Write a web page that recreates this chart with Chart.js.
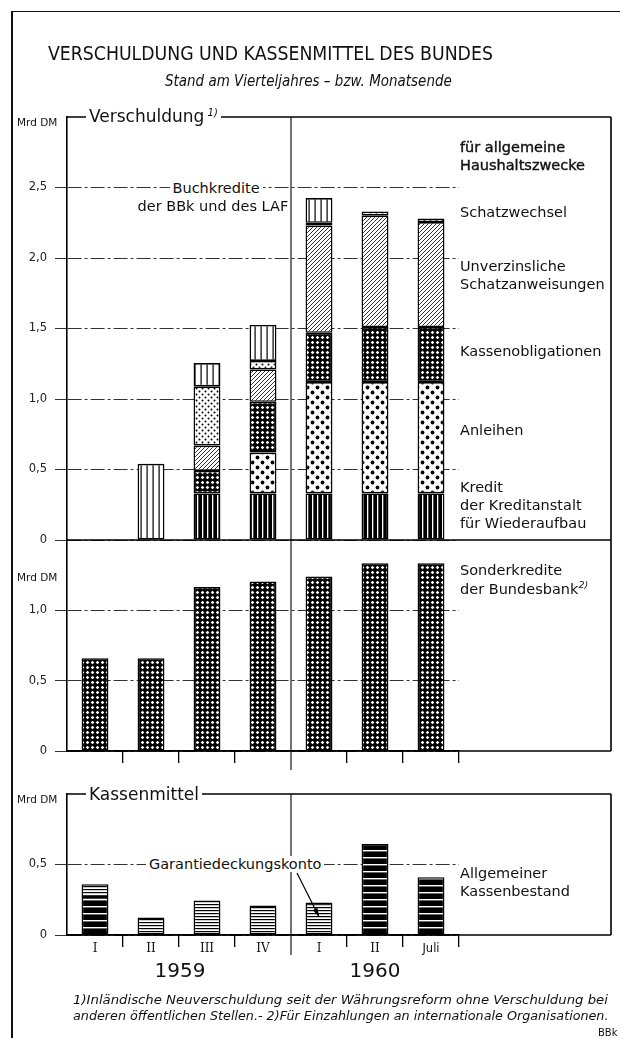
<!DOCTYPE html>
<html>
<head>
<meta charset="utf-8">
<script src="https://cdn.jsdelivr.net/npm/chart.js@4.4.1/dist/chart.umd.min.js"></script>
<style>
  body { margin: 0; background: #fff; }
  #page { position: relative; width: 620px; height: 1038px; overflow: hidden; background: #fff;
          font-family: 'DejaVu Sans', sans-serif; color: #111; }
  canvas { position: absolute; left: 0; top: 0; }
  .t { position: absolute; white-space: nowrap; line-height: 1.15; z-index: 5; }
  .bg { background: #fff; padding: 0 3px; }
  #outer { position: absolute; left: 11px; top: 11px; width: 640px; height: 1100px;
           border-left: 2px solid #111; border-top: 1.5px solid #111; }
</style>
</head>
<body>
<div id="page">
  <div id="outer"></div>
  <canvas id="debt" width="620" height="1038"></canvas>
  <canvas id="special" width="620" height="1038"></canvas>
  <canvas id="cash" width="620" height="1038"></canvas>
</div>
<script>
// categories (quarter / month ends)
const periods = ['I', 'II', 'III', 'IV', 'I', 'II', 'Juli'];
const years = ['1959', '1960'];

// Verschuldung, Mrd DM (stacked bottom -> top)
const kfwKredit      = [null, null, 0.33, 0.33, 0.33, 0.33, 0.33];
const anleihen       = [null, null, null, 0.29, 0.79, 0.79, 0.79];
const kassenoblig    = [null, null, 0.16, 0.36, 0.35, 0.39, 0.39];
const unverzSchatz   = [null, null, 0.18, 0.23, 0.76, 0.79, 0.745];
const schatzwechsel  = [null, null, 0.42, 0.06, 0.02, 0.03, 0.025];
const buchkredite    = [null, 0.54, 0.165, 0.255, 0.175, null, null];

// Sonderkredite der Bundesbank
const sonderkredite  = [0.66, 0.66, 1.165, 1.205, 1.24, 1.335, 1.335];

// Kassenmittel
const allgKasse      = [0.27, null, null, null, null, 0.645, 0.41];
const garantieKonto  = [0.09, 0.125, 0.245, 0.21, 0.23, null, null];

Chart.defaults.font.family = "'DejaVu Sans', sans-serif";
Chart.defaults.color = '#111';

const RIGHT = 611;

// hatch patterns like the printed chart
function pat(w, h, draw) {
  const c = document.createElement('canvas');
  c.width = w; c.height = h;
  const g = c.getContext('2d');
  draw(g, w, h);
  return g.createPattern(c, 'repeat');
}
const P = {
  kfw: pat(5, 5, (g) => { g.fillStyle = '#000'; g.fillRect(0, 0, 5, 5); g.fillStyle = '#fff'; g.fillRect(2, 0, 1.3, 5); }),
  buch: pat(6, 6, (g) => { g.fillStyle = '#fff'; g.fillRect(0, 0, 6, 6); g.fillStyle = '#000'; g.fillRect(2.5, 0, 1.2, 6); }),
  dotsBig: pat(10, 10, (g) => {
    g.fillStyle = '#fff'; g.fillRect(0, 0, 10, 10); g.fillStyle = '#000';
    [[2.5, 2.5], [7.5, 7.5]].forEach(([x, y]) => { g.beginPath(); g.arc(x, y, 1.9, 0, Math.PI * 2); g.fill(); });
  }),
  dotsSmall: pat(6, 6, (g) => {
    g.fillStyle = '#fff'; g.fillRect(0, 0, 6, 6); g.fillStyle = '#000';
    [[1.5, 1.5], [4.5, 4.5]].forEach(([x, y]) => { g.beginPath(); g.arc(x, y, 1.0, 0, Math.PI * 2); g.fill(); });
  }),
  hatch: pat(4, 4, (g) => {
    g.fillStyle = '#fff'; g.fillRect(0, 0, 4, 4); g.strokeStyle = '#000'; g.lineWidth = 0.8;
    g.beginPath(); g.moveTo(-1, 1); g.lineTo(1, -1); g.moveTo(0, 4); g.lineTo(4, 0); g.moveTo(3, 5); g.lineTo(5, 3); g.stroke();
  }),
  chain: pat(5, 5, (g) => {
    g.fillStyle = '#000'; g.fillRect(0, 0, 5, 5); g.fillStyle = '#fff';
    g.beginPath(); g.moveTo(2.5, 0.7); g.lineTo(4.3, 2.5); g.lineTo(2.5, 4.3); g.lineTo(0.7, 2.5); g.closePath(); g.fill();
  }),
  allg: pat(7, 7, (g) => { g.fillStyle = '#000'; g.fillRect(0, 0, 7, 7); g.fillStyle = '#fff'; g.fillRect(0, 3, 7, 1.4); }),
  garant: pat(3, 3, (g) => { g.fillStyle = '#fff'; g.fillRect(0, 0, 3, 3); g.fillStyle = '#000'; g.fillRect(0, 1, 3, 1.2); })
};

function ds(data, fill) {
  return { data: data, backgroundColor: fill, borderColor: '#000', borderWidth: 1.6,
           borderSkipped: false, barPercentage: 1, categoryPercentage: 0.48 };
}

const fmt = (v) => v === 0 ? '0' : v.toFixed(1).replace('.', ',');

function yAxis(max) {
  return {
    min: 0, max: max, stacked: true,
    afterBuildTicks: (s) => { s.ticks = s.ticks.filter(t => t.value < max - 1e-6); },
    afterFit: (s) => { s.width = 67; },
    ticks: { stepSize: 0.5, padding: 8, color: '#222', font: { size: 11.5 }, callback: fmt },
    grid: { color: '#333', lineWidth: 1, tickLength: 12 },
    border: { display: true, color: '#000', width: 1.6, dash: [14, 3, 3, 3] }
  };
}

function xAxis(show, labels) {
  return {
    display: show, offset: true, stacked: true,
    afterFit: (s) => { s.height = show ? 20 : 0; },
    grid: { offset: true, drawOnChartArea: false, tickLength: 12, lineWidth: 1.3,
            color: (c) => (c.index === 0 || c.index === 4) ? 'rgba(0,0,0,0)' : '#000' },
    border: { display: true, color: '#000', width: 1.6 },
    ticks: { display: labels, padding: -5, color: '#111',
             font: (c) => c.index === 6 ? { size: 11.5 } : { family: "'DejaVu Serif', serif", size: 12 } }
  };
}

const framePlugin = {
  id: 'frame',
  afterDraw(chart, args, o) {
    const { ctx, chartArea: a, scales } = chart;
    ctx.save();
    ctx.strokeStyle = '#000';
    ctx.lineWidth = 1.6;
    ctx.beginPath();
    if (o.top) { ctx.moveTo(a.left, a.top); ctx.lineTo(RIGHT, a.top); }
    ctx.moveTo(RIGHT, a.top); ctx.lineTo(RIGHT, a.bottom);
    ctx.moveTo(a.left, a.bottom); ctx.lineTo(RIGHT, a.bottom);
    ctx.stroke();
    if (o.divider) {
      const x = scales.x.getPixelForValue(3.5);
      ctx.lineWidth = 1.1;
      ctx.beginPath(); ctx.moveTo(x, a.top); ctx.lineTo(x, a.bottom + o.divider); ctx.stroke();
    }
    if (o.arrow) {
      // pointer from the Garantiedeckungskonto label to the 1960 I bar
      const x2 = scales.x.getPixelForValue(4), y2 = scales.y.getPixelForValue(0.13);
      const x1 = x2 - 22, y1 = scales.y.getPixelForValue(0.44);
      const ang = Math.atan2(y2 - y1, x2 - x1);
      ctx.lineWidth = 1.2;
      ctx.beginPath(); ctx.moveTo(x1, y1); ctx.lineTo(x2, y2); ctx.stroke();
      ctx.fillStyle = '#000';
      ctx.beginPath();
      ctx.moveTo(x2, y2);
      ctx.lineTo(x2 - 9 * Math.cos(ang - 0.3), y2 - 9 * Math.sin(ang - 0.3));
      ctx.lineTo(x2 - 9 * Math.cos(ang + 0.3), y2 - 9 * Math.sin(ang + 0.3));
      ctx.closePath(); ctx.fill();
    }
    ctx.restore();
  }
};

function makeChart(id, datasets, yMax, pad, showX, labels, frame) {
  return new Chart(document.getElementById(id), {
    type: 'bar',
    data: { labels: periods, datasets: datasets },
    options: {
      responsive: false, animation: false,
      layout: { padding: { top: pad[0], right: 620 - 459, bottom: pad[1], left: 0 } },
      plugins: { legend: { display: false }, tooltip: { enabled: false }, frame: frame },
      scales: { x: xAxis(showX, labels), y: yAxis(yMax) }
    },
    plugins: [framePlugin]
  });
}

makeChart('debt', [
  ds(kfwKredit, P.kfw), ds(anleihen, P.dotsBig), ds(kassenoblig, P.chain),
  ds(unverzSchatz, P.hatch), ds(schatzwechsel, P.dotsSmall), ds(buchkredite, P.buch)
], 3.0, [117, 1038 - 540], false, false, { top: true, divider: 230 });

makeChart('special', [ds(sonderkredite, P.chain)], 1.5, [540, 1038 - 751 - 20], true, false, {});

makeChart('cash', [ds(allgKasse, P.allg), ds(garantieKonto, P.garant)], 1.0,
  [794, 1038 - 935 - 20], true, true, { top: true, divider: 20, arrow: true });

// texts
const page = document.getElementById('page');
function label(html, x, y, size, o = {}) {
  const el = document.createElement('div');
  el.className = 't' + (o.bg ? ' bg' : '');
  el.innerHTML = html;
  el.style.fontSize = size + 'px';
  if (o.italic) el.style.fontStyle = 'italic';
  if (o.family) el.style.fontFamily = o.family;
  if (o.stroke) el.style.webkitTextStroke = o.stroke + 'px #111';
  page.appendChild(el);
  const w = el.offsetWidth, h = el.offsetHeight;
  const sx = o.width ? o.width / w : 1;
  const left = o.align === 'center' ? x - w * sx / 2 : x;
  el.style.left = left + 'px';
  el.style.top = (y - h / 2) + 'px';
  el.style.transformOrigin = '0 50%';
  if (sx !== 1) el.style.transform = 'scaleX(' + sx + ')';
}

label('VERSCHULDUNG UND KASSENMITTEL DES BUNDES', 48, 53, 20, { width: 445 });
label('Stand am Vierteljahres – bzw. Monatsende', 165, 81, 16, { italic: true, width: 287 });

label('Mrd DM', 17, 122, 10.5);
label('Mrd DM', 17, 577, 10.5);
label('Mrd DM', 17, 799, 10.5);

label('Verschuldung<sup style="font-size:10px;font-style:italic;vertical-align:6px"> 1)</sup>', 86, 117, 17, { bg: true });
label('Kassenmittel', 86, 795, 17, { bg: true });

const LX = 460;
label('für allgemeine', LX, 147, 14.5, { stroke: 0.4 });
label('Haushaltszwecke', LX, 165, 14.5, { stroke: 0.4 });
label('Schatzwechsel', LX, 212, 14.5);
label('Unverzinsliche', LX, 266, 14.5);
label('Schatzanweisungen', LX, 284, 14.5);
label('Kassenobligationen', LX, 351, 14.5);
label('Anleihen', LX, 430, 14.5);
label('Kredit', LX, 487, 14.5);
label('der Kreditanstalt', LX, 505, 14.5);
label('für Wiederaufbau', LX, 523, 14.5);
label('Sonderkredite', LX, 570, 14.5);
label('der Bundesbank<sup style="font-size:9.5px;font-style:italic;vertical-align:6px">2)</sup>', LX, 589, 14.5);
label('Allgemeiner', LX, 873, 14.5);
label('Kassenbestand', LX, 891, 14.5);

label('Buchkredite', 216, 188, 14.5, { bg: true, align: 'center' });
label('der BBk und des LAF', 213, 206, 14.5, { align: 'center' });
label('Garantiedeckungskonto', 235, 864, 14.5, { bg: true, align: 'center' });

label(years[0], 180, 970, 20, { align: 'center' });
label(years[1], 375, 970, 20, { align: 'center' });

label('1)Inländische Neuverschuldung seit der Währungsreform ohne Verschuldung bei', 73, 1000, 12.5, { italic: true, width: 535 });
label('anderen öffentlichen Stellen.- 2)Für Einzahlungen an internationale Organisationen.', 73, 1016, 12.5, { italic: true, width: 535 });
label('BBk', 598, 1033, 10);
</script>
</body>
</html>
